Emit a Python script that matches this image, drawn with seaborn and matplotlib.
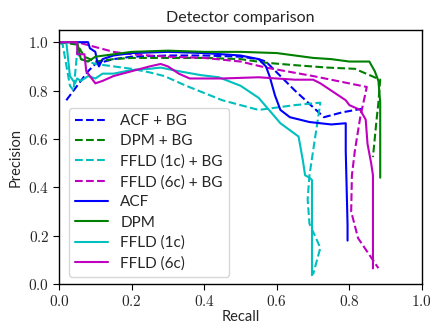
import pandas as pd
import matplotlib.pyplot as plt
import matplotlib.ticker as mticker
import seaborn as sns

# Precision/recall points
acf_bg_recall = [0.02, 0.05, 0.08, 0.10, 0.15, 0.20, 0.30, 0.40, 0.50, 0.55, 0.57, 0.65, 0.73, 0.78, 0.835]
acf_bg_prec = [0.76, 0.82, 0.88, 0.91, 0.93, 0.94, 0.945, 0.945, 0.94, 0.93, 0.92, 0.80, 0.69, 0.71, 0.725]

dpm_bg_recall = [0.0, 0.05, 0.07, 0.10, 0.15, 0.20, 0.30, 0.40, 0.50, 0.57, 0.65, 0.74, 0.815, 0.885, 0.88, 0.875, 0.865]
dpm_bg_prec = [1.0, 0.99, 0.94, 0.92, 0.93, 0.935, 0.935, 0.935, 0.93, 0.915, 0.905, 0.895, 0.89, 0.845, 0.75, 0.68, 0.525]

ffld1_bg_recall = [0.0, 0.01, 0.03, 0.04, 0.05, 0.06, 0.10, 0.15, 0.20, 0.25, 0.29, 0.35, 0.40, 0.45, 0.50,
                   0.55, 0.60, 0.65, 0.72, 0.715, 0.70, 0.69, 0.685, 0.69, 0.72, 0.70]
ffld1_bg_prec = [1.0, 0.99, 0.82, 0.80, 0.96, 0.93, 0.91, 0.90, 0.89, 0.875, 0.86, 0.82, 0.79, 0.76, 0.74,
                 0.72, 0.73, 0.74, 0.75, 0.70, 0.55, 0.45, 0.35, 0.25, 0.15, 0.04]

ffld6_bg_recall = [0.0, 0.05, 0.10, 0.15, 0.20, 0.30, 0.40, 0.50, 0.57, 0.70, 0.848, 0.83, 0.815, 0.807,
                   0.805, 0.824, 0.88]
ffld6_bg_prec = [1.0, 1.0, 0.98, 0.96, 0.95, 0.94, 0.935, 0.92, 0.895, 0.86, 0.815, 0.69, 0.55, 0.45,
                 0.30, 0.19, 0.066]

acf_recall = [0.0, 0.08, 0.085, 0.10, 0.105, 0.11, 0.12, 0.15, 0.20, 0.30, 0.40, 0.50, 0.55, 0.57, 0.58,
              0.595, 0.61, 0.636, 0.69, 0.75, 0.79, 0.79, 0.795, 0.795]
acf_prec = [1.0, 1.0, 0.975, 0.96, 0.92, 0.90, 0.93, 0.945, 0.955, 0.96, 0.955, 0.945, 0.93, 0.90, 0.86,
            0.78, 0.72, 0.69, 0.67, 0.66, 0.665, 0.55, 0.245, 0.18]

dpm_recall = [0.0, 0.05, 0.06, 0.08, 0.10, 0.15, 0.20, 0.30, 0.40, 0.50, 0.60, 0.65, 0.70, 0.75, 0.80,
              0.855, 0.87, 0.88, 0.885, 0.885, 0.885]
dpm_prec = [1.0, 1.0, 0.93, 0.92, 0.94, 0.95, 0.96, 0.965, 0.96, 0.96, 0.955, 0.945, 0.935, 0.93, 0.92,
            0.92, 0.88, 0.84, 0.75, 0.60, 0.44]

ffld1_recall = [0.0, 0.02, 0.03, 0.044, 0.05, 0.06, 0.08, 0.10, 0.12, 0.15, 0.20, 0.25, 0.28, 0.33, 0.39,
                0.44, 0.50, 0.55, 0.61, 0.66, 0.672, 0.678, 0.69, 0.697, 0.697]
ffld1_prec = [1.0, 1.0, 0.86, 0.83, 0.85, 0.84, 0.86, 0.85, 0.87, 0.87, 0.885, 0.89, 0.895, 0.88, 0.864,
              0.855, 0.82, 0.77, 0.665, 0.61, 0.51, 0.45, 0.44, 0.43, 0.037]

ffld6_recall = [0.0, 0.05, 0.05, 0.07, 0.075, 0.09, 0.10, 0.12, 0.15, 0.20, 0.25, 0.28, 0.30, 0.33, 0.36,
                0.45, 0.55, 0.60, 0.65, 0.70, 0.72, 0.75, 0.77, 0.79, 0.80, 0.83, 0.845, 0.85, 0.86,
                0.865, 0.865, 0.865]
ffld6_prec = [1.0, 1.0, 0.95, 0.95, 0.88, 0.85, 0.83, 0.84, 0.86, 0.88, 0.90, 0.91, 0.90, 0.87, 0.85,
              0.85, 0.855, 0.85, 0.845, 0.845, 0.83, 0.80, 0.78, 0.76, 0.74, 0.72, 0.68, 0.58, 0.50,
              0.45, 0.25, 0.065]

series = [
    ("ACF + BG", acf_bg_recall, acf_bg_prec, "b", "--"),
    ("DPM + BG", dpm_bg_recall, dpm_bg_prec, "g", "--"),
    ("FFLD (1c) + BG", ffld1_bg_recall, ffld1_bg_prec, "c", "--"),
    ("FFLD (6c) + BG", ffld6_bg_recall, ffld6_bg_prec, "m", "--"),
    ("ACF", acf_recall, acf_prec, "b", "-"),
    ("DPM", dpm_recall, dpm_prec, "g", "-"),
    ("FFLD (1c)", ffld1_recall, ffld1_prec, "c", "-"),
    ("FFLD (6c)", ffld6_recall, ffld6_prec, "m", "-"),
]

sns.set_style("ticks")
plt.rcParams['font.family'] = ['Lato', 'DejaVu Sans']
plt.rcParams['mathtext.fontset'] = 'cm'

fig = plt.figure(figsize=(4.31, 3.27), dpi=100)
ax = fig.add_axes([0.137, 0.131, 0.842, 0.777])

for name, rec, prec, col, ls in series:
    df = pd.DataFrame({"recall": rec, "precision": prec})
    sns.lineplot(data=df, x="recall", y="precision", sort=False, estimator=None,
                 color=col, linestyle=ls, linewidth=1.5, label=name, ax=ax)

ax.set_xlim(0, 1.0)
ax.set_ylim(0, 1.05)
ax.set_xticks([0.0, 0.2, 0.4, 0.6, 0.8, 1.0])
ax.set_yticks([0.0, 0.2, 0.4, 0.6, 0.8, 1.0])
fmt = mticker.FuncFormatter(lambda v, p: f"${v:.1f}$")
ax.xaxis.set_major_formatter(fmt)
ax.yaxis.set_major_formatter(fmt)
ax.tick_params(axis='both', labelsize=11, direction='out', length=4, color='black', pad=3)
for s in ax.spines.values():
    s.set_color('black')
    s.set_linewidth(1.0)

ax.set_title("Detector comparison", fontsize=11.5)
ax.set_xlabel("Recall", fontsize=10.5, labelpad=1)
ax.set_ylabel("Precision", fontsize=10.5)
ax.legend(loc="lower left", fontsize=11, handlelength=2.2, labelspacing=0.4,
          bbox_to_anchor=(0.005, 0.0))

fig.savefig("out.png", dpi=100)
